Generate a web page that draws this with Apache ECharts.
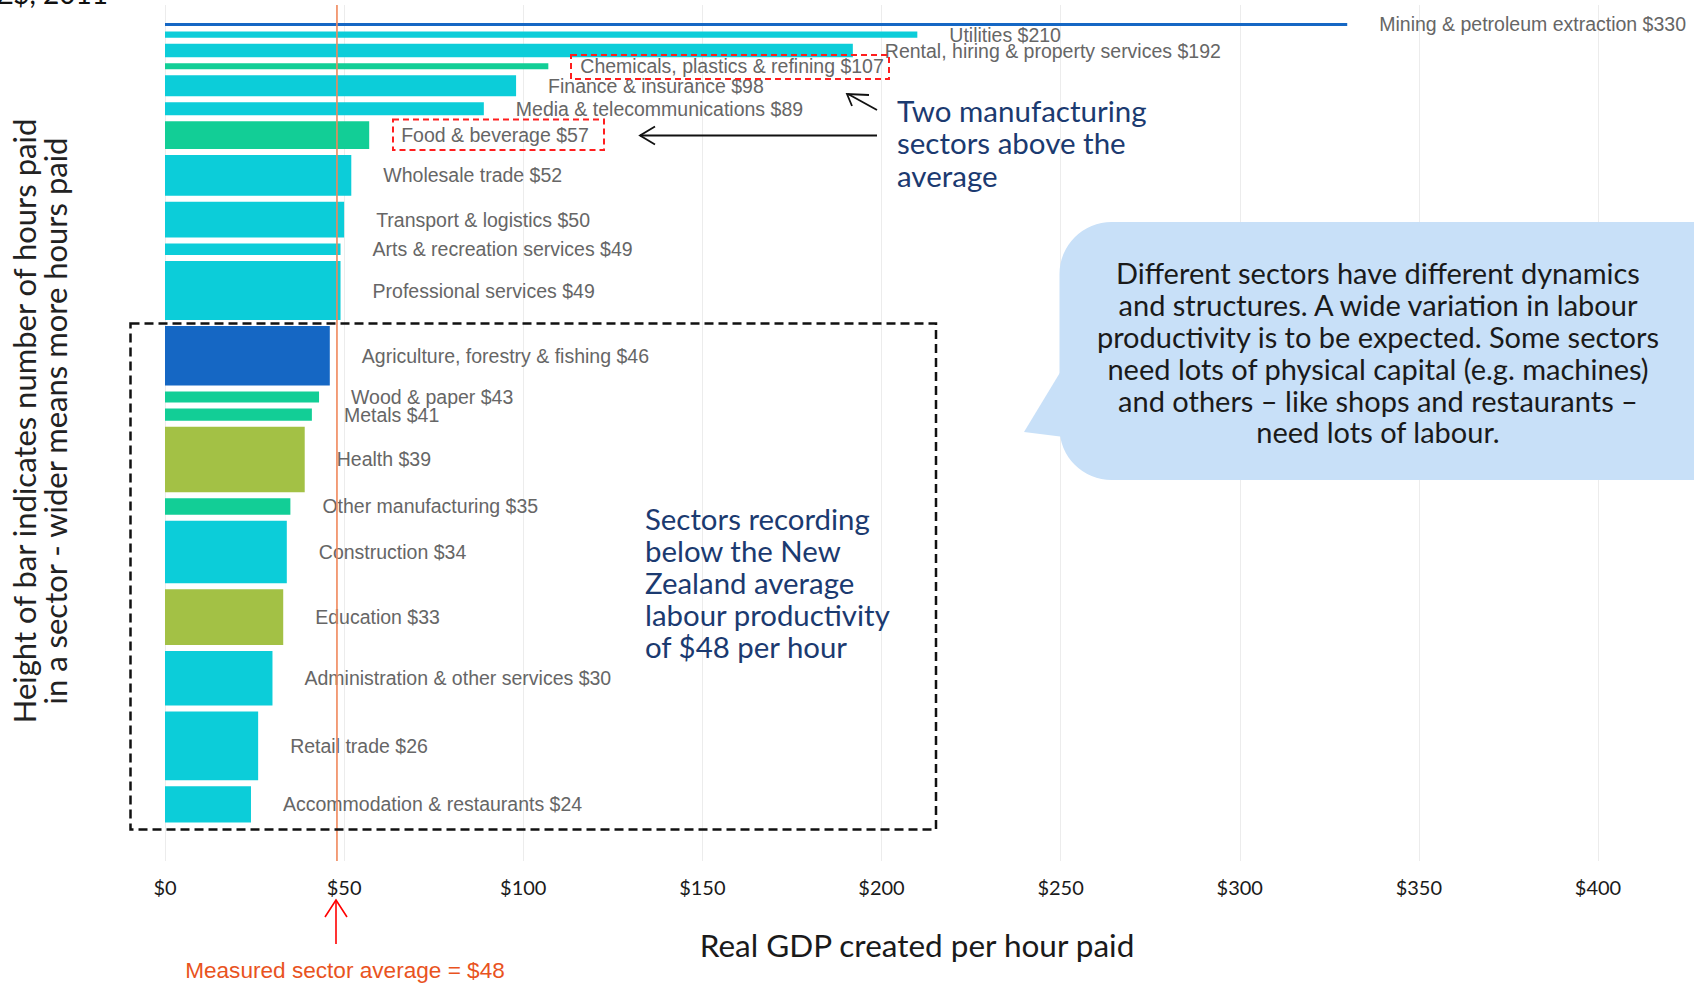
<!DOCTYPE html>
<html>
<head>
<meta charset="utf-8">
<script src="https://cdn.jsdelivr.net/npm/echarts@6/dist/echarts.min.js"></script>
<style>
html,body{margin:0;padding:0;background:#ffffff;}
#chart{width:1694px;height:983px;}
</style>
</head>
<body>
<div id="chart"></div>
<script>
// ---------------- DATA ----------------
const sectors = [
  'Mining & petroleum extraction', 'Utilities', 'Rental, hiring & property services',
  'Chemicals, plastics & refining', 'Finance & insurance', 'Media & telecommunications',
  'Food & beverage', 'Wholesale trade', 'Transport & logistics', 'Arts & recreation services',
  'Professional services', 'Agriculture, forestry & fishing', 'Wood & paper', 'Metals',
  'Health', 'Other manufacturing', 'Construction', 'Education',
  'Administration & other services', 'Retail trade', 'Accommodation & restaurants'
];
// Real GDP per hour paid (NZ$)
const productivity = [330, 210, 192, 107, 98, 89, 57, 52, 50, 49, 49, 46, 43, 41, 39, 35, 34, 33, 30, 26, 24];
// Share of total hours paid (%)
const hoursShare = [1.02, 1.52, 2.43, 1.48, 3.37, 2.35, 4.20, 5.80, 5.19, 2.17, 8.07, 8.14, 2.11, 2.27, 8.87, 2.81, 8.50, 7.66, 7.53, 9.29, 5.23];
const sectorGroup = ['primary', 'services', 'services', 'manufacturing', 'services', 'services',
  'manufacturing', 'services', 'services', 'services', 'services', 'primary', 'manufacturing',
  'manufacturing', 'public', 'manufacturing', 'services', 'public', 'services', 'services', 'services'];
const averageProductivity = 48;
const xTicks = [0, 50, 100, 150, 200, 250, 300, 350, 400];

// ---------------- STYLE ----------------
const groupColor = {services: '#0CCDD9', manufacturing: '#12CE96', primary: '#1567C4', public: '#A3C145'};
const labelFont = '"Liberation Sans", Arial, sans-serif';
const gothic = 'Lato, "Noto Sans", sans-serif';
const navy = '#1B3A70';

// cumulative positions on the hours axis
const totalHours = hoursShare.reduce((a, b) => a + b, 0);
let cum = 0;
const barData = sectors.map((s, i) => {
  const start = cum;
  cum += hoursShare[i];
  return [productivity[i], start, cum, i];
});

const chart = echarts.init(document.getElementById('chart'), null, {renderer: 'svg'});

const option = {
  animation: false,
  backgroundColor: '#ffffff',
  grid: {left: 165, right: 96, top: 5, bottom: 122},
  xAxis: {
    type: 'value',
    min: xTicks[0],
    max: xTicks[xTicks.length - 1],
    interval: xTicks[1] - xTicks[0],
    axisLine: {show: false},
    axisTick: {show: false},
    splitLine: {show: true, lineStyle: {color: '#ececec', width: 1}},
    axisLabel: {
      formatter: v => '$' + v,
      color: '#1a1a1a',
      fontFamily: gothic,
      fontSize: 20,
      margin: 16
    }
  },
  yAxis: {
    type: 'value',
    inverse: true,
    min: -0.019 * totalHours,
    max: totalHours * 1.0442,
    show: false,
    splitLine: {show: false}
  },
  series: [
    {
      type: 'custom',
      clip: false,
      data: barData,
      encode: {x: 0, y: [1, 2]},
      renderItem: function (params, api) {
        const val = api.value(0), start = api.value(1), end = api.value(2), idx = api.value(3);
        const p0 = api.coord([0, start]);
        const p1 = api.coord([val, end]);
        const gap = 3;
        const h = Math.max(p1[1] - p0[1] - 2 * gap, 3);
        const cy = (p0[1] + p1[1]) / 2;
        return {
          type: 'group',
          children: [
            {
              type: 'rect',
              shape: {x: p0[0], y: cy - h / 2, width: p1[0] - p0[0], height: h},
              style: {fill: groupColor[sectorGroup[idx]]}
            },
            {
              type: 'text',
              x: p1[0] + 32,
              y: cy,
              style: {
                text: sectors[idx] + ' $' + val,
                fill: '#666666',
                fontFamily: labelFont,
                fontSize: 19.5,
                align: 'left',
                verticalAlign: 'middle'
              }
            }
          ]
        };
      },
      z: 2
    },
    {
      type: 'line',
      data: [[averageProductivity, -0.019 * totalHours], [averageProductivity, totalHours * 1.0442]],
      symbol: 'none',
      lineStyle: {color: '#F0875A', width: 1.6},
      silent: true,
      z: 5
    }
  ],
  graphic: [
    // cut-off subtitle at top-left
    {type: 'text', x: 108, y: 7, z: 10, style: {text: 'NZ$, 2011', fontFamily: gothic, fontSize: 28, fill: '#111', align: 'right', verticalAlign: 'bottom'}},
    // y axis title
    {type: 'text', x: 39, y: 421, rotation: Math.PI / 2, z: 10,
     style: {text: 'Height of bar indicates number of hours paid\nin a sector - wider means more hours paid',
             fontFamily: gothic, fontSize: 31, lineHeight: 31, fill: '#222', align: 'center', verticalAlign: 'middle'}},
    // x axis title
    {type: 'text', x: 917, y: 945, z: 10,
     style: {text: 'Real GDP created per hour paid', fontFamily: gothic, fontSize: 31.5, fill: '#1a1a1a', align: 'center', verticalAlign: 'middle'}},
    // red dashed boxes around manufacturing labels
    {type: 'rect', z: 10, shape: {x: 571, y: 55, width: 318, height: 24},
     style: {fill: 'none', stroke: '#FF1E1E', lineWidth: 2, lineDash: [6, 4]}},
    {type: 'rect', z: 10, shape: {x: 393, y: 119.5, width: 211, height: 30.5},
     style: {fill: 'none', stroke: '#FF1E1E', lineWidth: 2, lineDash: [6, 4]}},
    // black dashed box
    {type: 'rect', z: 10, shape: {x: 130.5, y: 323.5, width: 805.5, height: 506},
     style: {fill: 'none', stroke: '#111', lineWidth: 2.5, lineDash: [9, 5]}},
    // black arrows
    {type: 'polyline', z: 10, shape: {points: [[877, 110], [848, 94]]}, style: {stroke: '#111', lineWidth: 1.8, fill: 'none'}},
    {type: 'polyline', z: 10, shape: {points: [[869, 95], [847, 94], [852, 106]]}, style: {stroke: '#111', lineWidth: 1.8, fill: 'none'}},
    {type: 'polyline', z: 10, shape: {points: [[877, 135.5], [640, 135.5]]}, style: {stroke: '#111', lineWidth: 1.8, fill: 'none'}},
    {type: 'polyline', z: 10, shape: {points: [[655, 126.5], [640, 135.5], [655, 144.5]]}, style: {stroke: '#111', lineWidth: 1.8, fill: 'none'}},
    // annotation texts
    {type: 'text', x: 897, y: 94, z: 10,
     style: {text: 'Two manufacturing\nsectors above the\naverage', fontFamily: gothic, fontSize: 29.5, lineHeight: 32.5, fill: navy, align: 'left', verticalAlign: 'top'}},
    {type: 'text', x: 645, y: 502.5, z: 10,
     style: {text: 'Sectors recording\nbelow the New\nZealand average\nlabour productivity\nof $48 per hour', fontFamily: gothic, fontSize: 29.4, lineHeight: 32, fill: navy, align: 'left', verticalAlign: 'top'}},
    // speech bubble
    {type: 'polygon', z: 9, shape: {points: [[1064, 366], [1024, 432], [1064, 437]]}, style: {fill: '#C8E0F8'}},
    {type: 'rect', z: 9, shape: {x: 1059.5, y: 222, width: 700, height: 258, r: 52}, style: {fill: '#C8E0F8'}},
    {type: 'text', x: 1378, y: 257, z: 10,
     style: {text: 'Different sectors have different dynamics\nand structures. A wide variation in labour\nproductivity is to be expected. Some sectors\nneed lots of physical capital (e.g. machines)\nand others \u2013 like shops and restaurants \u2013\nneed lots of labour.',
             fontFamily: gothic, fontSize: 29, lineHeight: 31.8, fill: '#1a1a1a', align: 'center', verticalAlign: 'top'}},
    // red arrow to the average
    {type: 'polyline', z: 10, shape: {points: [[336, 944], [336, 900]]}, style: {stroke: '#FF0000', lineWidth: 1.6, fill: 'none'}},
    {type: 'polyline', z: 10, shape: {points: [[325, 917], [336, 900], [347, 917]]}, style: {stroke: '#FF0000', lineWidth: 1.6, fill: 'none'}},
    {type: 'text', x: 345, y: 970, z: 10,
     style: {text: 'Measured sector average = $48', fontFamily: labelFont, fontSize: 22.6, fill: '#E9531E', align: 'center', verticalAlign: 'middle'}}
  ]
};
chart.setOption(option);
</script>
</body>
</html>
